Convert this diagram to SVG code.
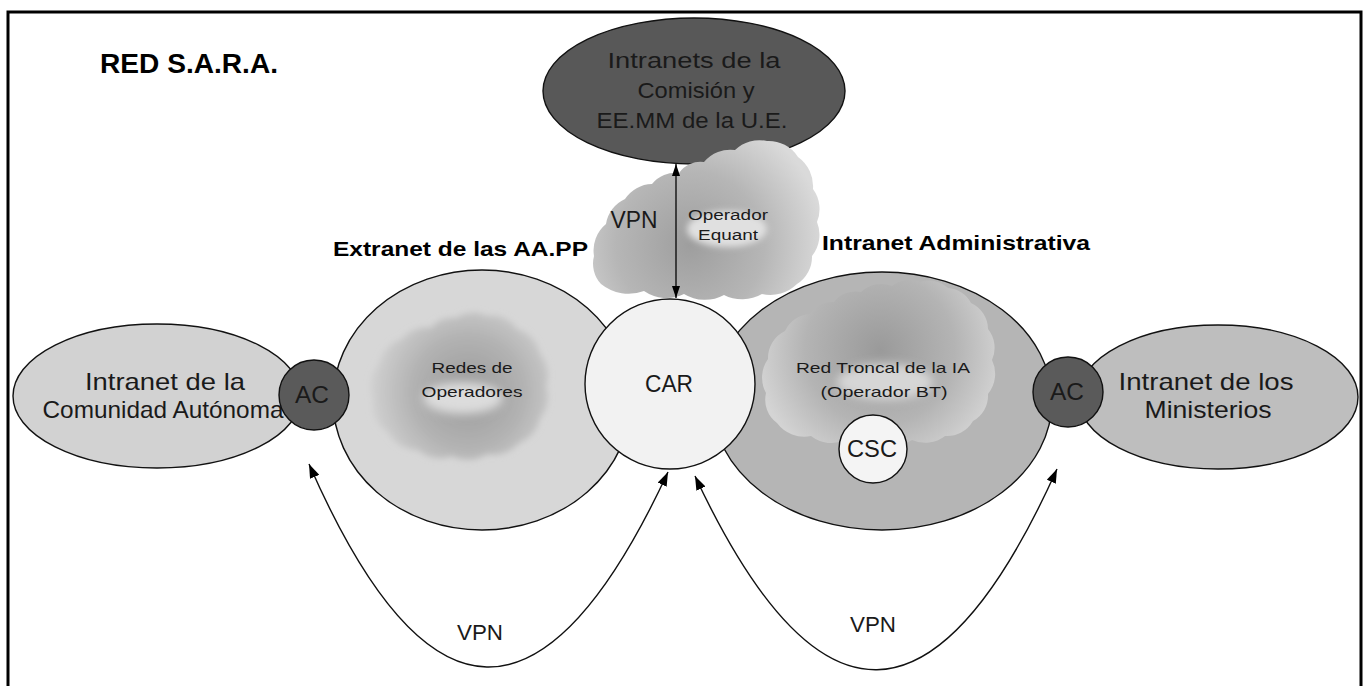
<svg xmlns="http://www.w3.org/2000/svg" width="1366" height="686" viewBox="0 0 1366 686">
<style>
.t{font-family:"Liberation Sans",Arial,sans-serif;fill:#1a1a1a}
.b{font-family:"Liberation Sans",Arial,sans-serif;font-weight:bold;fill:#000}
.shape{stroke:#111;stroke-width:1.4}
.conn{fill:none;stroke:#111;stroke-width:1.4}
</style>
<defs>
<radialGradient id="gTop" gradientUnits="userSpaceOnUse" cx="690" cy="245" r="135">
<stop offset="0" stop-color="#9e9e9e"/><stop offset="0.55" stop-color="#b6b6b6"/><stop offset="1" stop-color="#dadada"/>
</radialGradient>
<radialGradient id="gExt" gradientUnits="userSpaceOnUse" cx="468" cy="392" r="100">
<stop offset="0" stop-color="#9a9a9a"/><stop offset="0.55" stop-color="#b2b2b2"/><stop offset="1" stop-color="#d2d2d2"/>
</radialGradient>
<radialGradient id="gAdm" gradientUnits="userSpaceOnUse" cx="880" cy="350" r="125">
<stop offset="0" stop-color="#9a9a9a"/><stop offset="0.6" stop-color="#b4b4b4"/><stop offset="1" stop-color="#d4d4d4"/>
</radialGradient>
<filter id="blur" x="-50%" y="-50%" width="200%" height="200%"><feGaussianBlur stdDeviation="5"/></filter>
<filter id="soft" x="-20%" y="-20%" width="140%" height="140%"><feGaussianBlur stdDeviation="3"/></filter>
<marker id="ah" viewBox="0 0 14 10" refX="14" refY="5" markerWidth="14" markerHeight="10" markerUnits="userSpaceOnUse" orient="auto-start-reverse">
<path d="M0,0 L14,5 L0,10 Z" fill="#000"/>
</marker>
<marker id="ahs" viewBox="0 0 12 8" refX="12" refY="4" markerWidth="12" markerHeight="8" markerUnits="userSpaceOnUse" orient="auto-start-reverse">
<path d="M0,0 L12,4 L0,8 Z" fill="#000"/>
</marker>
</defs>
<rect x="0" y="0" width="1366" height="686" fill="#fff"/>
<rect x="8" y="12" width="1353" height="700" fill="none" stroke="#000" stroke-width="3"/>
<text class="b" x="100" y="73" font-size="27" textLength="178" lengthAdjust="spacingAndGlyphs">RED S.A.R.A.</text>

<g id="intranets-ue">
<ellipse class="shape" cx="694" cy="91" rx="151" ry="73" fill="#585858"/>
<text class="t" x="694" y="68" font-size="22" text-anchor="middle" textLength="173" lengthAdjust="spacingAndGlyphs">Intranets de la</text>
<text class="t" x="696" y="98" font-size="22" text-anchor="middle" textLength="117" lengthAdjust="spacingAndGlyphs">Comisión y</text>
<text class="t" x="692" y="128" font-size="22" text-anchor="middle" textLength="191" lengthAdjust="spacingAndGlyphs">EE.MM de la U.E.</text>
</g>

<g id="cloud-equant">
<path d="M601,284 A30,30 0 0 1 594,256 A34,34 0 0 1 606,224 A33,33 0 0 1 625,199 A33,33 0 0 1 652,184 A30,30 0 0 1 679,173 A26,26 0 0 1 704,162 A34,34 0 0 1 735,150 A35,35 0 0 1 767,141 A35,35 0 0 1 798,157 A36,36 0 0 1 813,189 A34,34 0 0 1 817,222 A34,34 0 0 1 812,256 A32,32 0 0 1 797,284 A38,38 0 0 1 762,294 A40,40 0 0 1 724,295 A40,40 0 0 1 684,294 A40,40 0 0 1 644,291 A44,44 0 0 1 601,284 Z" fill="url(#gTop)"/>
<ellipse cx="727" cy="229" rx="40" ry="18" fill="#e0e0e0" filter="url(#soft)"/>
<text class="t" x="728" y="220" font-size="14" text-anchor="middle" textLength="80" lengthAdjust="spacingAndGlyphs">Operador</text>
<text class="t" x="728" y="240" font-size="14" text-anchor="middle" textLength="60" lengthAdjust="spacingAndGlyphs">Equant</text>
<text class="t" x="634" y="228" font-size="24" text-anchor="middle" textLength="47" lengthAdjust="spacingAndGlyphs" fill="#222">VPN</text>
</g>

<text class="b" x="333" y="256" font-size="21" textLength="255" lengthAdjust="spacingAndGlyphs">Extranet de las AA.PP</text>
<text class="b" x="822" y="250" font-size="21" textLength="268" lengthAdjust="spacingAndGlyphs">Intranet Administrativa</text>

<g id="intranet-ca">
<ellipse class="shape" cx="157" cy="396" rx="144" ry="72" fill="#d2d2d2"/>
<text class="t" x="165" y="390" font-size="24" text-anchor="middle" textLength="160" lengthAdjust="spacingAndGlyphs">Intranet de la</text>
<text class="t" x="163" y="418" font-size="24" text-anchor="middle" textLength="241" lengthAdjust="spacingAndGlyphs">Comunidad Autónoma</text>
</g>

<g id="extranet">
<ellipse class="shape" cx="482" cy="400" rx="149" ry="130" fill="#d7d7d7"/>
<path d="M388,432 A30,30 0 0 1 373,400 A36,36 0 0 1 379,364 A33,33 0 0 1 402,339 A30,30 0 0 1 431,328 A26,26 0 0 1 456,318 A30,30 0 0 1 487,316 A30,30 0 0 1 517,329 A33,33 0 0 1 540,354 A32,32 0 0 1 546,386 A32,32 0 0 1 540,418 A33,33 0 0 1 519,443 A33,33 0 0 1 487,454 A35,35 0 0 1 452,456 A33,33 0 0 1 418,450 A33,33 0 0 1 388,432 Z" fill="url(#gExt)" filter="url(#soft)"/>
<ellipse cx="463" cy="398" rx="40" ry="16" fill="#dcdcdc" filter="url(#blur)"/>
<text class="t" x="472" y="373" font-size="15" text-anchor="middle" textLength="81" lengthAdjust="spacingAndGlyphs">Redes de</text>
<text class="t" x="472" y="397" font-size="15" text-anchor="middle" textLength="101" lengthAdjust="spacingAndGlyphs">Operadores</text>
</g>

<g id="ac-left">
<circle class="shape" cx="314" cy="395" r="35" fill="#5a5a5a"/>
<text class="t" x="312" y="403" font-size="24" text-anchor="middle" textLength="34" lengthAdjust="spacingAndGlyphs">AC</text>
</g>

<g id="intranet-admin">
<ellipse class="shape" cx="882" cy="401" rx="170" ry="129" fill="#b5b5b5"/>
<path d="M777,423 A29,29 0 0 1 766,393 A32,32 0 0 1 768,359 A30,30 0 0 1 785,331 A29,29 0 0 1 810,314 A27,27 0 0 1 834,302 A27,27 0 0 1 861,292 A30,30 0 0 1 892,286 A28,28 0 0 1 920,282 A28,28 0 0 1 948,288 A28,28 0 0 1 971,303 A29,29 0 0 1 988,329 A30,30 0 0 1 992,360 A32,32 0 0 1 988,394 A29,29 0 0 1 973,421 A30,30 0 0 1 945,436 A32,32 0 0 1 912,440 A32,32 0 0 1 880,442 A34,34 0 0 1 846,440 A34,34 0 0 1 811,436 A34,34 0 0 1 777,423 Z" fill="url(#gAdm)"/>
<ellipse cx="885" cy="382" rx="48" ry="18" fill="#d6d6d6" filter="url(#blur)"/>
<text class="t" x="883" y="373" font-size="15" text-anchor="middle" textLength="174" lengthAdjust="spacingAndGlyphs">Red Troncal de la IA</text>
<text class="t" x="884" y="397" font-size="15" text-anchor="middle" textLength="127" lengthAdjust="spacingAndGlyphs">(Operador BT)</text>
</g>

<g id="csc">
<circle class="shape" cx="873" cy="449" r="34" fill="#f4f4f4"/>
<text class="t" x="872" y="457" font-size="24" text-anchor="middle" textLength="50" lengthAdjust="spacingAndGlyphs">CSC</text>
</g>

<g id="car">
<circle class="shape" cx="670" cy="384" r="85" fill="#f2f2f2"/>
<text class="t" x="669" y="392" font-size="24" text-anchor="middle" textLength="48" lengthAdjust="spacingAndGlyphs">CAR</text>
</g>

<g id="intranet-ministerios">
<ellipse class="shape" cx="1218" cy="397" rx="140" ry="72" fill="#bebebe"/>
<text class="t" x="1206" y="390" font-size="24" text-anchor="middle" textLength="175" lengthAdjust="spacingAndGlyphs">Intranet de los</text>
<text class="t" x="1208" y="418" font-size="24" text-anchor="middle" textLength="127" lengthAdjust="spacingAndGlyphs">Ministerios</text>
</g>

<g id="ac-right">
<circle class="shape" cx="1068" cy="392" r="35" fill="#5a5a5a"/>
<text class="t" x="1067" y="400" font-size="24" text-anchor="middle" textLength="34" lengthAdjust="spacingAndGlyphs">AC</text>
</g>

<g id="connectors">
<line class="conn" x1="676" y1="164" x2="676" y2="298" marker-start="url(#ahs)" marker-end="url(#ahs)"/>
<path class="conn" d="M309,464 Q485,866 668,472" marker-start="url(#ah)" marker-end="url(#ah)"/>
<path class="conn" d="M695,476 Q878,867 1057,469" marker-start="url(#ah)" marker-end="url(#ah)"/>
<text class="t" x="480" y="640" font-size="22" text-anchor="middle" textLength="46" lengthAdjust="spacingAndGlyphs">VPN</text>
<text class="t" x="873" y="632" font-size="22" text-anchor="middle" textLength="46" lengthAdjust="spacingAndGlyphs">VPN</text>
</g>
</svg>
